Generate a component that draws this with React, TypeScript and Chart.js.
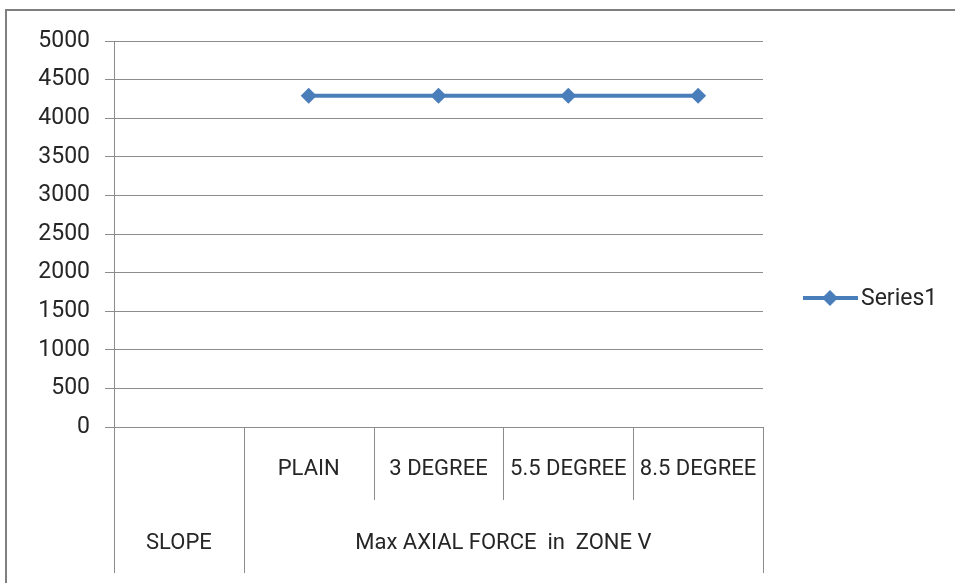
import React, { useEffect, useRef } from "react";
import { Chart, registerables } from "chart.js";

Chart.register(...registerables);

const categories: string[] = ["", "PLAIN", "3 DEGREE", "5.5 DEGREE", "8.5 DEGREE"];
const groupLabels: string[] = ["SLOPE", "Max AXIAL FORCE  in  ZONE V"];
const groupSpans: number[] = [1, 4];
const series1: (number | null)[] = [null, 4290, 4290, 4290, 4290];
const seriesName = "Series1";
const yMin = 0;
const yMax = 5000;
const yStep = 500;

const FONT = "Roboto, 'Liberation Sans', sans-serif";
const BLUE = "#4a7ebb";
const GRID = "#8c8c8c";
const TEXT = "#262626";

const decorPlugin = {
  id: "decor",
  beforeDraw(chart: any) {
    const ctx = chart.ctx;
    ctx.save();
    ctx.fillStyle = "#ffffff";
    ctx.fillRect(0, 0, chart.width, chart.height);
    // outer frame
    ctx.strokeStyle = "#7f7f7f";
    ctx.lineWidth = 2;
    ctx.beginPath();
    ctx.moveTo(6, chart.height + 5);
    ctx.lineTo(6, 10);
    ctx.lineTo(chart.width + 5, 10);
    ctx.stroke();
    ctx.restore();
  },
  afterDraw(chart: any) {
    const ctx = chart.ctx;
    const xs = chart.scales.x;
    const area = chart.chartArea;
    const n = categories.length;
    const w = (area.right - area.left) / n;
    const row1Bottom = area.bottom + 73;
    const row2Bottom = area.bottom + 146;
    ctx.save();
    ctx.strokeStyle = GRID;
    ctx.lineWidth = 1;
    // group boundaries
    const groupStarts = new Set<number>();
    let acc = 0;
    groupStarts.add(0);
    groupSpans.forEach((s) => {
      acc += s;
      groupStarts.add(acc);
    });
    for (let i = 0; i <= n; i++) {
      const x = Math.round(area.left + i * w) + 0.5;
      const full = groupStarts.has(i);
      ctx.beginPath();
      ctx.moveTo(x, area.bottom);
      ctx.lineTo(x, full ? row2Bottom : row1Bottom);
      ctx.stroke();
    }
    // category labels (level 1)
    ctx.fillStyle = TEXT;
    ctx.font = `22px ${FONT}`;
    ctx.textAlign = "center";
    ctx.textBaseline = "middle";
    categories.forEach((c, i) => {
      if (!c) return;
      const x = xs.getPixelForValue(i);
      ctx.fillText(c, x, area.bottom + 42);
    });
    // group labels (level 2)
    let start = 0;
    groupLabels.forEach((g, gi) => {
      const span = groupSpans[gi];
      const x0 = area.left + start * w;
      const x1 = area.left + (start + span) * w;
      ctx.fillText(g, (x0 + x1) / 2, area.bottom + 116);
      start += span;
    });
    // legend
    const ly = 298;
    ctx.strokeStyle = BLUE;
    ctx.lineWidth = 4;
    ctx.beginPath();
    ctx.moveTo(803, ly);
    ctx.lineTo(858, ly);
    ctx.stroke();
    ctx.fillStyle = BLUE;
    ctx.beginPath();
    ctx.moveTo(830, ly - 8);
    ctx.lineTo(838, ly);
    ctx.lineTo(830, ly + 8);
    ctx.lineTo(822, ly);
    ctx.closePath();
    ctx.fill();
    ctx.fillStyle = TEXT;
    ctx.font = `23px ${FONT}`;
    ctx.textAlign = "left";
    ctx.fillText(seriesName, 861, ly + 1);
    ctx.restore();
  },
};

export default function App() {
  const ref = useRef<HTMLCanvasElement | null>(null);
  useEffect(() => {
    document.body.style.margin = "0";
    const canvas = ref.current;
    if (!canvas) return;
    const chart = new Chart(canvas, {
      type: "line",
      data: {
        labels: categories,
        datasets: [
          {
            label: seriesName,
            data: series1,
            borderColor: BLUE,
            backgroundColor: BLUE,
            borderWidth: 4,
            pointStyle: "rectRot",
            pointRadius: 8,
            pointBorderWidth: 0,
            pointBackgroundColor: BLUE,
            tension: 0,
          },
        ],
      },
      options: {
        animation: false,
        responsive: false,
        devicePixelRatio: 1,
        layout: { padding: { left: 0, top: 41, right: 192, bottom: 156 } },
        plugins: { legend: { display: false }, tooltip: { enabled: false } },
        scales: {
          x: {
            display: false,
            offset: true,
          },
          y: {
            min: yMin,
            max: yMax,
            afterFit(scale: any) {
              scale.width = 114;
            },
            ticks: {
              stepSize: yStep,
              padding: 15,
              color: TEXT,
              font: { family: FONT, size: 23 },
              callback: (v: any) => String(v),
            },
            grid: {
              color: GRID,
              lineWidth: 1,
              tickLength: 9,
              drawTicks: true,
            },
            border: { color: GRID, width: 1 },
          },
        },
      },
      plugins: [decorPlugin],
    } as any);
    return () => chart.destroy();
  }, []);
  return (
    <div style={{ width: 955, height: 583 }}>
      <canvas ref={ref} width={955} height={583} />
    </div>
  );
}
